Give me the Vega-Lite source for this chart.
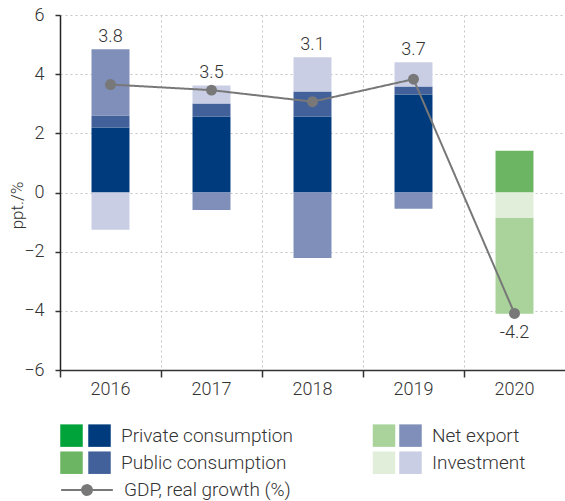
{
  "$schema": "https://vega.github.io/schema/vega-lite/v6.json",
  "width": 505,
  "height": 355,
  "autosize": {"type": "none"},
  "padding": {"left": 60, "top": 15, "right": 0, "bottom": 131},
  "background": "white",
  "config": {
    "view": {"stroke": null},
    "font": "Roboto",
    "text": {"font": "Roboto"}
  },
  "datasets": {
    "bars": [
      {"year": "2016", "component": "Private consumption", "rank": 1, "value": 2.2},
      {"year": "2016", "component": "Public consumption", "rank": 2, "value": 0.4},
      {"year": "2016", "component": "Investment", "rank": 3, "value": -1.26},
      {"year": "2016", "component": "Net export", "rank": 4, "value": 2.24},
      {"year": "2017", "component": "Private consumption", "rank": 1, "value": 2.57},
      {"year": "2017", "component": "Public consumption", "rank": 2, "value": 0.44},
      {"year": "2017", "component": "Investment", "rank": 3, "value": 0.61},
      {"year": "2017", "component": "Net export", "rank": 4, "value": -0.59},
      {"year": "2018", "component": "Private consumption", "rank": 1, "value": 2.57},
      {"year": "2018", "component": "Public consumption", "rank": 2, "value": 0.84},
      {"year": "2018", "component": "Investment", "rank": 3, "value": 1.16},
      {"year": "2018", "component": "Net export", "rank": 4, "value": -2.21},
      {"year": "2019", "component": "Private consumption", "rank": 1, "value": 3.31},
      {"year": "2019", "component": "Public consumption", "rank": 2, "value": 0.27},
      {"year": "2019", "component": "Investment", "rank": 3, "value": 0.82},
      {"year": "2019", "component": "Net export", "rank": 4, "value": -0.55},
      {"year": "2020", "component": "Public consumption", "rank": 2, "value": 1.41},
      {"year": "2020", "component": "Investment", "rank": 3, "value": -0.86},
      {"year": "2020", "component": "Net export", "rank": 4, "value": -3.24}
    ],
    "gdp": [
      {"year": "2016", "series": "GDP, real growth (%)", "gdp": 3.65, "label": "3.8"},
      {"year": "2017", "series": "GDP, real growth (%)", "gdp": 3.46, "label": "3.5"},
      {"year": "2018", "series": "GDP, real growth (%)", "gdp": 3.07, "label": "3.1"},
      {"year": "2019", "series": "GDP, real growth (%)", "gdp": 3.83, "label": "3.7"},
      {"year": "2020", "series": "GDP, real growth (%)", "gdp": -4.09, "label": "-4.2"}
    ]
  },
  "encoding": {
    "x": {
      "field": "year",
      "type": "nominal",
      "scale": {"domain": ["2016", "2017", "2018", "2019", "2020"], "paddingInner": 0, "paddingOuter": 0},
      "axis": {
        "title": null,
        "labelAngle": 0,
        "bandPosition": 0,
        "labelFont": "Roboto",
        "labelFontWeight": 300,
        "labelFontSize": 18,
        "labelColor": "#333333",
        "labelPadding": 3,
        "domainColor": "#333333",
        "domainWidth": 1.5,
        "tickColor": "#333333",
        "tickWidth": 1.5,
        "tickSize": 7,
        "grid": true,
        "gridDash": [2, 3],
        "gridColor": "#c4c4c4",
        "gridWidth": 1
      }
    }
  },
  "layer": [
    {
      "data": {"name": "bars"},
      "transform": [{"filter": "datum.year != '2020'"}],
      "mark": {"type": "bar", "width": {"band": 0.376}},
      "encoding": {
        "y": {
          "field": "value",
          "type": "quantitative",
          "stack": "zero",
          "scale": {"domain": [-6, 6], "nice": false, "zero": false},
          "axis": {
            "values": [-6, -4, -2, 0, 2, 4, 6],
            "title": "ppt./%",
            "titleFont": "Roboto",
            "titleFontWeight": 300,
            "titleFontSize": 17,
            "titleColor": "#333333",
            "titleAngle": -90,
            "titleAlign": "center",
            "titleBaseline": "alphabetic",
            "titleX": -38,
            "titleY": 190,
            "labelFont": "Roboto",
            "labelFontWeight": 300,
            "labelFontSize": 18,
            "labelColor": "#333333",
            "labelPadding": 11,
            "domainColor": "#222222",
            "domainWidth": 1.5,
            "tickColor": "#333333",
            "tickWidth": 1.5,
            "tickSize": 5,
            "grid": true,
            "gridDash": [2, 3],
            "gridColor": "#c4c4c4",
            "gridWidth": 1
          }
        },
        "order": {"field": "rank", "type": "quantitative"},
        "color": {
          "field": "component",
          "type": "nominal",
          "scale": {
            "domain": ["Private consumption", "Public consumption", "Net export", "Investment"],
            "range": ["#003c7d", "#42619b", "#7f8fba", "#c9cee4"]
          },
          "legend": {
            "orient": "none",
            "legendX": 28,
            "legendY": 409,
            "title": null,
            "columns": 2,
            "direction": "vertical",
            "padding": 0,
            "symbolType": "square",
            "symbolSize": 506,
            "symbolStrokeWidth": 0,
            "labelFont": "Roboto",
            "labelFontWeight": 300,
            "labelFontSize": 19,
            "labelColor": "#333333",
            "labelOffset": 10,
            "labelLimit": 400,
            "rowPadding": 4.2,
            "columnPadding": 106
          }
        }
      }
    },
    {
      "data": {"name": "bars"},
      "transform": [{"filter": "datum.year == '2020'"}],
      "mark": {"type": "bar", "width": {"band": 0.376}},
      "encoding": {
        "y": {"field": "value", "type": "quantitative", "stack": "zero"},
        "order": {"field": "rank", "type": "quantitative"},
        "fill": {
          "field": "component",
          "type": "nominal",
          "scale": {
            "domain": ["Private consumption", "Net export", "Public consumption", "Investment"],
            "range": ["#00a23a", "#a9d39a", "#6cb663", "#e1eed9"]
          },
          "legend": {
            "orient": "none",
            "legendX": 0,
            "legendY": 409,
            "title": null,
            "values": ["Private consumption", "Public consumption", "Net export", "Investment"],
            "columns": 2,
            "direction": "vertical",
            "padding": 0,
            "symbolType": "square",
            "symbolSize": 506,
            "symbolStrokeWidth": 0,
            "labelExpr": "''",
            "labelFontSize": 19,
            "labelOffset": 0,
            "rowPadding": 4.2,
            "columnPadding": 289.5
          }
        }
      }
    },
    {
      "mark": {"type": "rule", "color": "#555555", "strokeWidth": 1.5},
      "encoding": {"y": {"datum": 0, "type": "quantitative"}, "x": null}
    },
    {
      "data": {"name": "gdp"},
      "mark": {"type": "line", "color": "#787878", "strokeWidth": 2},
      "encoding": {
        "y": {"field": "gdp", "type": "quantitative"},
        "strokeDash": {
          "field": "series",
          "type": "nominal",
          "scale": {"range": [[1, 0]]},
          "legend": {
            "orient": "none",
            "legendX": 0,
            "legendY": 448,
            "title": null,
            "padding": 0,
            "symbolType": "M-1,0L-0.19,0M0.19,0L1,0M-0.19,0A0.19,0.19,0,1,1,0.19,0A0.19,0.19,0,1,1,-0.19,0Z",
            "symbolSize": 2673,
            "symbolStrokeColor": "#787878",
            "symbolFillColor": "#787878",
            "symbolStrokeWidth": 2,
            "labelFont": "Roboto",
            "labelFontWeight": 300,
            "labelFontSize": 19,
            "labelColor": "#333333",
            "labelOffset": 10,
            "labelLimit": 400,
            "encode": {"symbols": {"update": {"fill": {"value": "#787878"}, "stroke": {"value": "#787878"}, "strokeDash": {"value": [1, 0]}}}}
          }
        }
      }
    },
    {
      "data": {"name": "gdp"},
      "mark": {"type": "circle", "color": "#787878", "opacity": 1, "size": 120},
      "encoding": {"y": {"field": "gdp", "type": "quantitative"}}
    },
    {
      "data": {"name": "bars"},
      "transform": [
        {"filter": "datum.year != '2020' && datum.value > 0"},
        {"aggregate": [{"op": "sum", "field": "value", "as": "top"}], "groupby": ["year"]},
        {"lookup": "year", "from": {"data": {"name": "gdp"}, "key": "year", "fields": ["label"]}}
      ],
      "mark": {"type": "text", "font": "Roboto", "fontWeight": 300, "fontSize": 18, "color": "#333333", "baseline": "alphabetic", "dy": -7},
      "encoding": {
        "y": {"field": "top", "type": "quantitative"},
        "text": {"field": "label", "type": "nominal"}
      }
    },
    {
      "data": {"name": "bars"},
      "transform": [
        {"filter": "datum.year == '2020' && datum.value < 0"},
        {"aggregate": [{"op": "sum", "field": "value", "as": "bottom"}], "groupby": ["year"]},
        {"lookup": "year", "from": {"data": {"name": "gdp"}, "key": "year", "fields": ["label"]}}
      ],
      "mark": {"type": "text", "font": "Roboto", "fontWeight": 300, "fontSize": 18, "color": "#333333", "baseline": "alphabetic", "dy": 24},
      "encoding": {
        "y": {"field": "bottom", "type": "quantitative"},
        "text": {"field": "label", "type": "nominal"}
      }
    }
  ]
}
